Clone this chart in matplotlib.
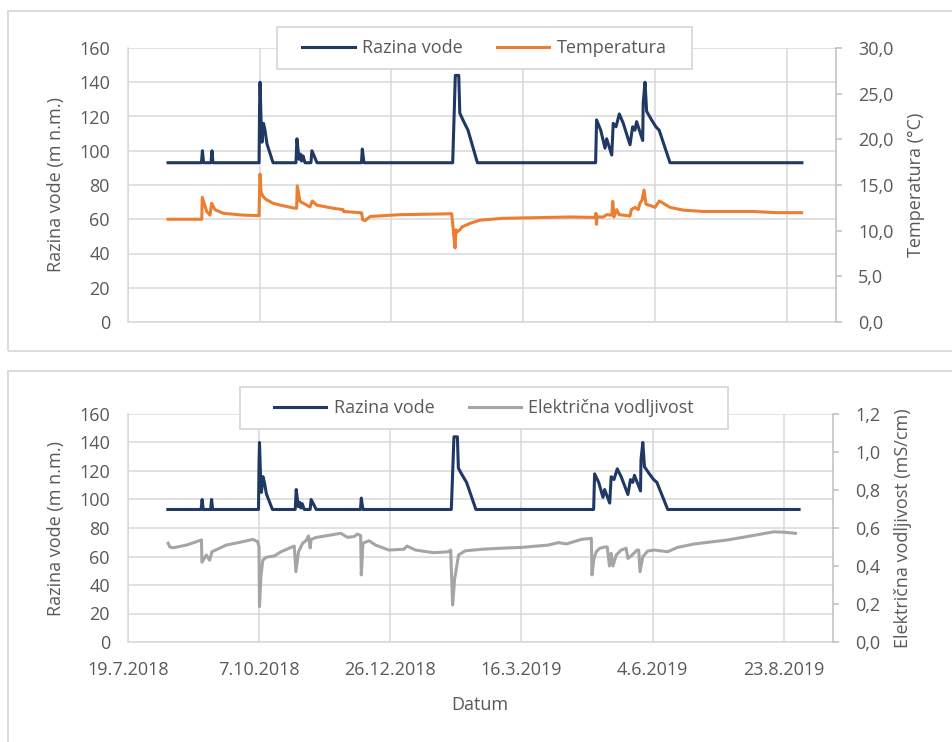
import numpy as np
import pandas as pd
import matplotlib
matplotlib.use('Agg')
import matplotlib.pyplot as plt
from matplotlib.patches import Rectangle
from matplotlib.ticker import FuncFormatter, MultipleLocator
from matplotlib.lines import Line2D

plt.rcParams['font.family'] = ['Open Sans', 'DejaVu Sans']

# days counted from 19.7.2018
start = pd.Timestamp('2018-07-19')
x_end_day = 430

razina_dan = [24.3, 44.6, 45.2, 45.9, 50.4, 51.0, 51.6,
              79.6, 79.9, 80.2, 80.8, 81.4, 82.3, 83.2, 84.4, 88.1,
              102.0, 102.6, 103.9, 104.8, 105.4, 106.3, 107.5,
              111.1, 111.7, 114.8, 141.8, 142.3, 143.3,
              197.2, 198.8, 200.9, 201.5, 203.4, 206.5, 212.2,
              284.0, 284.6, 287.1, 289.7, 290.7, 293.8, 294.7, 296.4, 298.4, 300.8,
              304.9, 306.5, 307.9, 308.9, 312.6, 312.9, 314.0, 315.0, 318.0, 320.6,
              322.6, 329.2, 409.3]
razina = [93, 93, 100, 93, 93, 100, 93,
          93, 125, 140, 118, 105, 116, 112, 104, 93,
          93, 107, 95, 98, 94, 97, 93,
          93, 100, 93, 93, 101, 93,
          93, 144, 144, 122, 118, 112, 93,
          93, 118, 112, 101.5, 107, 97.5, 116, 114, 121.5, 116,
          103.5, 114, 112, 117, 106, 128, 140, 123, 118, 114,
          112, 93, 93]

temp_dan = [24.3, 44.8, 45.1, 47.8, 49.8, 50.8, 52.8, 57.9, 70.0,
            79.6, 79.9, 80.2, 80.8, 82.2, 84.0, 86.2, 88.0, 92.3, 95.0, 100.0, 102.4,
            102.8, 104.5, 110.5, 111.9, 114.6, 124.7, 130.6, 130.9, 140.9,
            141.9, 142.5, 143.9, 147.0, 165.2, 196.6,
            197.6, 198.6, 199.2, 199.8, 201.6, 202.8, 207.7, 213.8, 227.7, 268.4,
            283.6, 284.2, 284.5, 284.8, 288.7, 290.7, 293.9, 294.4, 295.2, 296.8,
            298.4, 304.9, 305.7, 307.9, 309.9, 310.9, 312.2, 313.4, 314.6, 318.0,
            320.1, 322.7, 329.2, 337.2, 349.4, 379.7, 393.9, 409.1]
temperatura = [11.25, 11.25, 13.65, 12.1, 11.7, 13.0, 12.3, 11.9, 11.7,
               11.65, 14.4, 16.2, 14.2, 13.7, 13.4, 13.2, 13.0, 12.8, 12.7, 12.5, 12.45,
               14.9, 13.2, 12.6, 13.25, 12.8, 12.45, 12.3, 12.1, 11.97,
               11.95, 11.2, 11.1, 11.55, 11.75, 11.85,
               10.0, 8.1, 10.1, 9.85, 10.1, 10.4, 10.8, 11.15, 11.35, 11.5,
               11.45, 11.9, 10.7, 11.5, 11.5, 11.75, 11.7, 13.2, 11.5, 12.3,
               11.75, 11.6, 12.3, 12.55, 12.3, 13.0, 13.35, 14.45, 12.9, 12.7,
               12.55, 13.25, 12.55, 12.25, 12.1, 12.1, 11.97, 11.97]

ev_dan = [24.5, 25.5, 27.5, 35.6, 44.8, 45.1, 47.8, 49.8, 51.2, 59.9, 70.0, 76.1, 79.1,
          79.9, 80.2, 81.1, 82.2, 84.2, 89.3, 93.3, 101.4, 102.4, 104.0, 106.5, 108.5,
          110.1, 111.1, 111.7, 114.6, 129.8, 133.8, 137.9, 139.9, 141.9, 142.3, 143.3,
          147.0, 151.0, 159.1, 168.2, 170.2, 175.3, 186.4, 195.5, 196.8, 198.0, 199.2,
          201.6, 205.7, 215.8, 225.9, 240.1, 256.3, 262.4, 267.4, 276.5, 282.6, 283.0,
          284.2, 285.6, 287.7, 290.7, 292.3, 293.7, 294.7, 295.8, 297.8, 300.8, 303.8,
          304.9, 306.9, 310.5, 311.5, 312.3, 314.0, 317.0, 321.1, 329.2, 335.2, 345.4,
          365.6, 379.7, 393.9, 400.0, 407.1]
vodljivost = [0.52, 0.50, 0.496, 0.51, 0.537, 0.42, 0.458, 0.43, 0.475, 0.51, 0.528, 0.54, 0.528,
              0.50, 0.186, 0.35, 0.43, 0.446, 0.453, 0.475, 0.505, 0.37, 0.475, 0.52, 0.533,
              0.558, 0.495, 0.54, 0.55, 0.572, 0.551, 0.555, 0.568, 0.56, 0.353, 0.52,
              0.533, 0.51, 0.484, 0.488, 0.505, 0.484, 0.47, 0.475, 0.484, 0.195, 0.33,
              0.458, 0.48, 0.488, 0.493, 0.498, 0.51, 0.523, 0.516, 0.54, 0.546, 0.353,
              0.44, 0.475, 0.493, 0.50, 0.50, 0.40, 0.467, 0.40, 0.458, 0.484, 0.493,
              0.44, 0.453, 0.484, 0.484, 0.37, 0.449, 0.479, 0.484, 0.475, 0.498, 0.516,
              0.537, 0.558, 0.58, 0.578, 0.572]

x_tick_labels = ['19.7.2018', '7.10.2018', '26.12.2018', '16.3.2019', '4.6.2019', '23.8.2019']

BLUE = '#1f3864'
ORANGE = '#ed7d31'
GREY = '#a5a5a5'
GRID = '#d9d9d9'
TXT = '#595959'
FS = 13
LW = 2.2


def to_dates(days):
    return start + pd.to_timedelta(np.array(days), unit='D')


def comma(v, pos):
    return f'{v:.1f}'.replace('.', ',')


def setup_axes(ax, ax2, show_x):
    ticks = pd.to_datetime(x_tick_labels, format='%d.%m.%Y')
    ax.set_xlim(start, start + pd.Timedelta(days=x_end_day))
    ax.set_xticks(ticks)
    ax.set_xticklabels(x_tick_labels if show_x else [])
    ax.set_ylim(0, 160)
    ax.yaxis.set_major_locator(MultipleLocator(20))
    ax.grid(True, color=GRID, lw=1.1)
    ax.set_axisbelow(True)
    for s in ['top', 'right']:
        ax.spines[s].set_visible(False)
    ax.spines['left'].set_color(GRID)
    ax.spines['bottom'].set_color(GRID)
    ax.spines['left'].set_linewidth(1.1)
    ax.spines['bottom'].set_linewidth(1.1)
    ax.tick_params(axis='y', length=0, pad=13, labelsize=FS, labelcolor=TXT)
    ax.tick_params(axis='x', length=0, pad=14, labelsize=FS, labelcolor=TXT)
    for s in ['top', 'left', 'bottom']:
        ax2.spines[s].set_visible(False)
    ax2.spines['right'].set_color('#bfbfbf')
    ax2.spines['right'].set_linewidth(1.1)
    ax2.yaxis.set_major_formatter(FuncFormatter(comma))
    ax2.tick_params(axis='y', direction='out', length=4, width=1.1, color='#bfbfbf',
                    pad=12, labelsize=FS, labelcolor=TXT)


def legend_box(fig, ax2, x0, y0, x1, y1, handles, labels, colsp):
    W, H = fig.get_size_inches() * fig.dpi
    rect = Rectangle((x0 / W, 1 - y1 / H), (x1 - x0) / W, (y1 - y0) / H,
                     transform=fig.transFigure, facecolor='white', edgecolor=GRID,
                     lw=1.3, zorder=10, clip_on=False)
    ax2.add_artist(rect)
    leg = ax2.legend(handles, labels, loc='center', ncol=2, frameon=False,
                     bbox_to_anchor=((x0 + x1) / 2 / W, 1 - (y0 + y1) / 2 / H),
                     bbox_transform=fig.transFigure, fontsize=FS,
                     handlelength=2.9, handletextpad=0.4, columnspacing=colsp)
    leg.set_zorder(11)
    for t in leg.get_texts():
        t.set_color(TXT)


fig = plt.figure(figsize=(9.52, 7.42), dpi=100)
W, H = 952, 742

# chart area borders
fig.patches.append(Rectangle((8 / W, 1 - 351 / H), 1.0, (351 - 10.7) / H,
                             transform=fig.transFigure, facecolor='none',
                             edgecolor=GRID, lw=1.3))
fig.patches.append(Rectangle((8 / W, -0.02), 1.0, 0.02 + 1 - 370.7 / H,
                             transform=fig.transFigure, facecolor='none',
                             edgecolor=GRID, lw=1.3))

# water level and temperature
ax1 = fig.add_axes([128 / W, 1 - 322 / H, (836 - 128) / W, (322 - 48) / H])
ax1b = ax1.twinx()
ax1.plot(to_dates(razina_dan), razina, color=BLUE, lw=LW)
ax1b.plot(to_dates(temp_dan), temperatura, color=ORANGE, lw=LW)
ax1b.set_ylim(0, 30)
ax1b.yaxis.set_major_locator(MultipleLocator(5))
setup_axes(ax1, ax1b, show_x=False)
ax1.set_ylabel('Razina vode (m n.m.)', fontsize=FS, color=TXT)
ax1.yaxis.set_label_coords(-0.089, 0.5)
ax1b.set_ylabel('Temperatura (°C)', fontsize=FS, color=TXT)
ax1b.yaxis.set_label_coords(1.100, 0.5)
legend_box(fig, ax1b, 277, 27, 692, 69,
           [Line2D([], [], color=BLUE, lw=LW), Line2D([], [], color=ORANGE, lw=LW)],
           ['Razina vode', 'Temperatura'], 1.9)

# water level and electrical conductivity
ax2 = fig.add_axes([128 / W, 1 - 642 / H, (833 - 128) / W, (642 - 414) / H])
ax2b = ax2.twinx()
ax2.plot(to_dates(razina_dan), razina, color=BLUE, lw=LW)
ax2b.plot(to_dates(ev_dan), vodljivost, color=GREY, lw=LW)
ax2b.set_ylim(0, 1.2)
ax2b.yaxis.set_major_locator(MultipleLocator(0.2))
setup_axes(ax2, ax2b, show_x=True)
ax2.set_ylabel('Razina vode (m n.m.)', fontsize=FS, color=TXT)
ax2.yaxis.set_label_coords(-0.089, 0.5)
ax2b.set_ylabel('Električna vodljivost (mS/cm)', fontsize=FS, color=TXT)
ax2b.yaxis.set_label_coords(1.0865, 0.5)
ax2.set_xlabel('Datum', fontsize=FS, color=TXT)
ax2.xaxis.set_label_coords(0.499, -0.235)
legend_box(fig, ax2b, 240, 387, 728, 429,
           [Line2D([], [], color=BLUE, lw=LW), Line2D([], [], color=GREY, lw=LW)],
           ['Razina vode', 'Električna vodljivost'], 1.9)

fig.savefig('out.png', dpi=100)
